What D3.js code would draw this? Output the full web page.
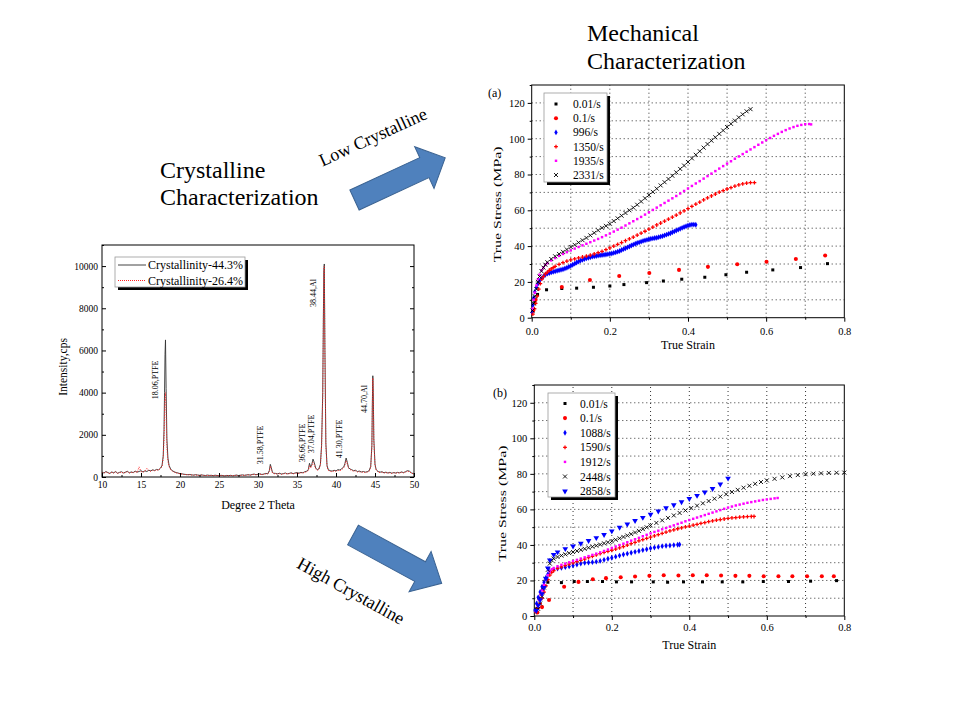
<!DOCTYPE html>
<html>
<head>
<meta charset="utf-8">
<script src="https://cdn.jsdelivr.net/npm/d3@7"></script>
<style>
  body { margin: 0; background: #fff; }
  svg { font-family: "Liberation Serif", "Times New Roman", serif; }
</style>
</head>
<body>
<svg id="fig" width="960" height="720"></svg>
<script>
// ---------- XRD data (intensity, cps vs 2 theta) ----------
const twoTheta = [
  10,10.25,10.5,10.75,11,11.25,11.5,11.75,12,12.25,12.5,12.75,13,13.25,13.5,13.75,14,14.25,14.5,14.75,15,15.25,15.5,15.75,16,16.25,16.5,16.75,17,17.25,17.5,
  17.7,17.85,17.95,18.02,18.08,18.14,18.22,18.32,18.45,18.6,18.8,19,
  19.25,19.5,19.75,20,20.25,20.5,20.75,21,21.25,21.5,21.75,22,22.25,22.5,22.75,23,23.25,23.5,23.75,24,24.25,24.5,24.75,25,25.25,25.5,25.75,26,26.25,26.5,26.75,27,27.25,27.5,27.75,28,28.25,28.5,28.75,29,29.25,29.5,29.75,30,30.25,30.5,30.75,31,31.25,
  31.45,31.58,31.7,31.85,32,
  32.25,32.5,32.75,33,33.25,33.5,33.75,34,34.25,34.5,34.75,35,35.25,35.5,35.75,36,36.25,
  36.45,36.6,36.75,36.9,37.05,37.2,37.4,37.6,37.8,38,38.15,38.3,38.38,38.44,38.5,38.58,38.7,38.85,39,
  39.25,39.5,39.75,40,40.25,40.5,40.75,41,
  41.15,41.3,41.45,41.6,41.8,
  42,42.25,42.5,42.75,43,43.25,43.5,43.75,44,44.25,
  44.45,44.6,44.66,44.72,44.78,44.85,45,45.15,
  45.4,45.65,45.9,46.15,46.4,46.65,46.9,47.15,47.4,47.65,47.9,48.15,48.4,48.65,48.9,49.15,49.4,49.65,49.9,50
];
const cryst443 = [
  230,190,260,210,170,240,200,260,180,220,250,190,230,270,200,240,210,280,230,260,300,240,290,260,320,290,340,310,360,340,420,
  550,1000,2200,4000,5800,6500,4200,1800,900,550,380,300,
  250,210,190,160,150,130,120,110,120,100,90,110,95,80,100,85,70,90,75,80,65,85,70,60,80,70,55,75,65,80,60,75,90,70,85,100,80,95,110,90,120,140,110,130,150,120,140,170,150,
  300,600,450,220,180,
  170,150,180,140,160,190,150,170,200,160,190,210,180,220,200,250,280,
  350,650,480,600,850,700,420,350,380,600,1500,4000,7500,9800,10100,6000,1600,550,350,
  300,280,320,290,350,330,400,480,
  650,900,700,450,380,
  350,300,320,260,280,240,260,230,250,300,
  500,1500,3500,4800,4000,1800,600,350,
  260,230,250,200,230,190,220,180,210,190,220,200,240,210,250,300,280,200,160,150
];
const cryst264 = [
  210,180,240,200,160,220,190,240,170,210,230,180,210,250,190,220,200,260,210,480,260,230,270,420,300,270,320,290,340,320,400,
  500,900,1800,3000,3800,4000,3000,1400,750,480,340,280,
  230,200,170,150,140,120,115,100,105,95,85,100,80,75,90,70,65,80,70,75,60,70,65,55,70,60,50,65,60,70,55,70,80,65,75,90,75,85,100,85,110,120,100,120,135,110,130,150,140,
  260,520,380,200,160,
  150,140,160,130,150,170,140,160,180,150,170,190,170,200,190,220,250,
  300,550,420,520,700,600,380,320,350,550,1400,3800,7300,9700,10000,5800,1500,500,320,
  270,250,290,270,310,300,360,430,
  580,780,620,420,350,
  320,270,290,240,250,220,240,210,230,270,
  460,1400,3300,4700,3900,1700,560,320,
  240,210,230,190,210,180,200,170,200,180,200,190,220,200,230,270,250,190,150,140
];
const xrdSeries = ["Crystallinity-44.3%", "Crystallinity-26.4%"];
// peak labels: text, 2theta, intensity (label centre)
const peakLabels = [
  ["18.06,PTFE", 16.92, 4600],
  ["31.58,PTFE", 30.38, 1520],
  ["36.66,PTFE", 35.73, 1610],
  ["37.04,PTFE", 36.88, 2040],
  ["38.44,Al", 37.09, 8720],
  ["41.30,PTFE", 40.42, 1800],
  ["44.70,Al", 43.59, 3700]
];
const thetaTicks = [10, 15, 20, 25, 30, 35, 40, 45, 50];
const intensityTicks = [0, 2000, 4000, 6000, 8000, 10000];

// ---------- Mechanical data (true strain, true stress MPa) ----------
const ratesA = ["0.01/s", "0.1/s", "996/s", "1350/s", "1935/s", "2331/s"];
const a_001 = [[0.003,4],[0.008,9],[0.015,13],[0.038,15.6],[0.077,16.3],[0.115,16.5],[0.158,17],[0.2,17.7],[0.236,18.5],[0.294,19.6],[0.337,20.5],[0.384,21.5],[0.443,22.6],[0.497,24],[0.55,25.4],[0.617,26.7],[0.688,28],[0.757,30.2]];
const a_01 = [[0.004,4],[0.01,10],[0.077,17.2],[0.149,21.1],[0.224,23.3],[0.301,25],[0.377,26.7],[0.451,28.4],[0.526,29.9],[0.601,31.3],[0.676,32.8],[0.751,34.7]];
const a_996 = [[0.001,3],[0.003,7],[0.005,11],[0.008,14.5],[0.012,17],[0.016,19],[0.02,20.5],[0.025,22],[0.03,23],[0.035,24],[0.04,24.6],[0.045,25],[0.05,25.3],[0.055,25.6],[0.06,25.9],[0.065,26.2],[0.07,26.5],[0.075,26.8],[0.08,27.1],[0.085,27.5],[0.09,27.9],[0.095,28.4],[0.1,29],[0.105,29.6],[0.11,30.2],[0.115,30.8],[0.12,31.4],[0.125,31.9],[0.13,32.4],[0.135,32.8],[0.14,33.2],[0.145,33.5],[0.15,33.8],[0.155,34.1],[0.16,34.3],[0.165,34.5],[0.17,34.7],[0.175,34.9],[0.18,35],[0.185,35.2],[0.19,35.3],[0.195,35.5],[0.2,35.7],[0.205,35.9],[0.21,36.2],[0.215,36.5],[0.22,36.9],[0.225,37.3],[0.23,37.8],[0.235,38.3],[0.24,38.8],[0.245,39.3],[0.25,39.8],[0.255,40.3],[0.26,40.8],[0.265,41.3],[0.27,41.7],[0.275,42.1],[0.28,42.5],[0.285,42.9],[0.29,43.2],[0.295,43.5],[0.3,43.8],[0.305,44.1],[0.31,44.3],[0.315,44.5],[0.32,44.7],[0.325,45],[0.33,45.3],[0.335,45.6],[0.34,46],[0.345,46.4],[0.35,46.8],[0.355,47.2],[0.36,47.7],[0.365,48.2],[0.37,48.7],[0.375,49.2],[0.38,49.7],[0.385,50.2],[0.39,50.7],[0.395,51.1],[0.4,51.5],[0.405,51.8],[0.41,52],[0.415,52],[0.42,51.9]];
const a_1350 = [[0.003,2],[0.007,5],[0.01,8],[0.014,12],[0.018,16],[0.022,19],[0.026,21.5],[0.03,23],[0.035,24.5],[0.04,25.5],[0.045,26.5],[0.05,27.3],[0.055,28],[0.06,28.7],[0.07,29.8],[0.08,30.8],[0.09,31.6],[0.1,32.3],[0.11,32.9],[0.12,33.4],[0.13,33.9],[0.14,34.4],[0.15,35],[0.16,35.6],[0.17,36.3],[0.18,37.1],[0.19,38],[0.2,39],[0.21,40],[0.22,41],[0.23,42],[0.24,43],[0.25,44],[0.26,45],[0.27,46.1],[0.28,47.2],[0.29,48.3],[0.3,49.5],[0.31,50.6],[0.32,51.8],[0.33,52.9],[0.34,54],[0.35,55.1],[0.36,56.2],[0.37,57.3],[0.38,58.5],[0.39,59.7],[0.4,61],[0.41,62.2],[0.42,63.4],[0.43,64.6],[0.44,65.8],[0.45,66.9],[0.46,68],[0.47,69.1],[0.48,70.1],[0.49,71],[0.5,71.9],[0.51,72.7],[0.52,73.5],[0.53,74.2],[0.54,74.8],[0.55,75.2],[0.56,75.5],[0.57,75.5]];
const a_1935 = [[0.002,5],[0.005,10],[0.008,14],[0.012,18],[0.016,21.5],[0.02,24],[0.025,26.5],[0.03,28],[0.035,29.5],[0.04,30.5],[0.05,32],[0.06,33.3],[0.07,34.5],[0.08,35.6],[0.09,36.6],[0.1,37.6],[0.11,38.6],[0.12,39.5],[0.13,40.4],[0.14,41.3],[0.15,42.2],[0.16,43.1],[0.17,44],[0.18,45],[0.19,46],[0.2,47],[0.21,48.1],[0.22,49.2],[0.23,50.3],[0.24,51.5],[0.25,52.7],[0.26,53.9],[0.27,55.1],[0.28,56.3],[0.29,57.6],[0.3,58.9],[0.31,60.2],[0.32,61.5],[0.33,62.8],[0.34,64.1],[0.35,65.4],[0.36,66.7],[0.37,68],[0.38,69.4],[0.39,70.8],[0.4,72.2],[0.41,73.6],[0.42,75],[0.43,76.3],[0.44,77.7],[0.45,79.1],[0.46,80.5],[0.47,81.9],[0.48,83.3],[0.49,84.7],[0.5,86.1],[0.51,87.4],[0.52,88.8],[0.53,90.1],[0.54,91.4],[0.55,92.7],[0.56,94],[0.57,95.3],[0.58,96.6],[0.59,97.9],[0.6,99.2],[0.61,100.4],[0.62,101.6],[0.63,102.7],[0.64,103.8],[0.65,104.8],[0.66,105.7],[0.67,106.5],[0.68,107.2],[0.69,107.7],[0.7,108.1],[0.71,108.2],[0.715,108]];
const a_2331 = [[0.002,4],[0.005,8],[0.008,12],[0.012,16],[0.016,20],[0.02,23],[0.025,26],[0.03,28],[0.035,29.6],[0.04,31],[0.05,32.8],[0.06,34.3],[0.07,35.6],[0.08,36.8],[0.09,38.1],[0.1,39.5],[0.11,40.7],[0.12,42],[0.13,43.3],[0.14,44.6],[0.15,46],[0.16,47.4],[0.17,48.8],[0.18,50.2],[0.19,51.3],[0.2,52.5],[0.21,54],[0.22,55.5],[0.23,57],[0.24,58.5],[0.25,60],[0.26,61.5],[0.27,63.1],[0.28,64.9],[0.29,66.7],[0.3,68.5],[0.31,70.3],[0.32,72.1],[0.33,73.9],[0.34,75.7],[0.35,77.5],[0.36,79.3],[0.37,81.2],[0.38,83.1],[0.39,85],[0.4,87],[0.41,89],[0.42,91],[0.43,93],[0.44,95],[0.45,97],[0.46,98.9],[0.47,100.8],[0.48,102.7],[0.49,104.6],[0.5,106.5],[0.51,108.3],[0.52,110.1],[0.53,111.9],[0.54,113.6],[0.55,115.3],[0.56,116.5]];

const ratesB = ["0.01/s", "0.1/s", "1088/s", "1590/s", "1912/s", "2448/s", "2858/s"];
const b_001 = [[0.004,4],[0.012,10],[0.022,15],[0.035,19],[0.07,18.8],[0.103,19.4],[0.137,19.4],[0.176,19.4],[0.212,19.2],[0.251,19.2],[0.307,19.2],[0.344,19],[0.385,19.2],[0.434,19.2],[0.485,19.2],[0.538,19.2],[0.591,19.4],[0.656,19.4],[0.713,19.6],[0.78,19.9]];
const b_01 = [[0.008,2],[0.02,5],[0.038,9],[0.077,16.5],[0.114,19.2],[0.151,20.7],[0.185,21.3],[0.223,21.8],[0.26,22.2],[0.297,22.6],[0.334,22.9],[0.372,22.8],[0.409,22.9],[0.445,22.9],[0.482,22.8],[0.519,22.6],[0.555,22.6],[0.592,22.4],[0.63,22.4],[0.666,22.4],[0.704,22.4],[0.742,22.4],[0.773,22.4]];
const b_1088 = [[0.002,3],[0.006,7],[0.01,10.5],[0.015,13.5],[0.02,16.5],[0.025,19],[0.03,21.5],[0.035,23.5],[0.04,25],[0.05,26.1],[0.06,26.7],[0.07,27.1],[0.08,27.5],[0.09,27.9],[0.1,28.4],[0.11,29],[0.12,29.5],[0.13,29.9],[0.14,30.1],[0.15,30.3],[0.16,30.6],[0.17,31],[0.18,31.6],[0.19,32.2],[0.2,32.8],[0.21,33.4],[0.22,34],[0.23,34.6],[0.24,35.1],[0.25,35.6],[0.26,36.1],[0.27,36.6],[0.28,37.1],[0.29,37.6],[0.3,38.1],[0.31,38.5],[0.32,38.9],[0.33,39.3],[0.34,39.5],[0.35,39.7],[0.36,39.9],[0.37,40.1],[0.375,40.2]];
const b_1590 = [[0.005,2],[0.01,4.5],[0.015,7],[0.02,10],[0.025,13.5],[0.03,17],[0.035,20.5],[0.04,23],[0.045,24.5],[0.05,25.5],[0.06,26.8],[0.07,27.7],[0.08,28.5],[0.09,29.2],[0.1,29.9],[0.11,30.6],[0.12,31.3],[0.13,32],[0.14,32.8],[0.15,33.6],[0.16,34.4],[0.17,35.1],[0.18,35.8],[0.19,36.4],[0.2,37],[0.21,37.7],[0.22,38.4],[0.23,39.1],[0.24,39.9],[0.25,40.7],[0.26,41.5],[0.27,42.3],[0.28,43],[0.29,43.7],[0.3,44.4],[0.31,45.1],[0.32,45.8],[0.33,46.5],[0.34,47.2],[0.35,47.9],[0.36,48.5],[0.37,49.1],[0.38,49.6],[0.39,50.1],[0.4,50.6],[0.41,51.1],[0.42,51.6],[0.43,52.1],[0.44,52.6],[0.45,53.1],[0.46,53.5],[0.47,53.9],[0.48,54.3],[0.49,54.6],[0.5,54.9],[0.51,55.2],[0.52,55.4],[0.53,55.6],[0.54,55.8],[0.55,55.9],[0.56,56],[0.567,56]];
const b_1912 = [[0.004,3],[0.008,6],[0.012,9],[0.016,12],[0.02,14.5],[0.025,17.5],[0.03,20.5],[0.035,23],[0.04,25],[0.045,26.3],[0.05,27],[0.06,28],[0.07,28.8],[0.08,29.5],[0.09,30.2],[0.1,30.9],[0.11,31.6],[0.12,32.3],[0.13,33],[0.14,33.7],[0.15,34.4],[0.16,35.1],[0.17,35.8],[0.18,36.6],[0.19,37.4],[0.2,38.3],[0.21,39.1],[0.22,39.9],[0.23,40.7],[0.24,41.5],[0.25,42.4],[0.26,43.2],[0.27,44],[0.28,44.9],[0.29,45.7],[0.3,46.5],[0.31,47.3],[0.32,48],[0.33,48.8],[0.34,49.5],[0.35,50.3],[0.36,51],[0.37,51.8],[0.38,52.5],[0.39,53.3],[0.4,54],[0.41,54.7],[0.42,55.4],[0.43,56.1],[0.44,56.8],[0.45,57.5],[0.46,58.2],[0.47,58.9],[0.48,59.6],[0.49,60.3],[0.5,61],[0.51,61.6],[0.52,62.2],[0.53,62.7],[0.54,63.2],[0.55,63.7],[0.56,64.1],[0.57,64.5],[0.58,64.9],[0.59,65.3],[0.6,65.6],[0.61,65.9],[0.62,66.2],[0.628,66.4]];
const b_2448 = [[0.01,4],[0.015,7],[0.02,11],[0.025,16],[0.03,21],[0.035,26],[0.04,29.5],[0.045,31.3],[0.05,32.3],[0.06,33.2],[0.07,34],[0.08,34.7],[0.09,35.4],[0.1,36],[0.11,36.6],[0.12,37.2],[0.13,37.8],[0.14,38.4],[0.15,39],[0.16,39.6],[0.17,40.2],[0.18,40.9],[0.19,41.5],[0.2,42.1],[0.21,42.9],[0.22,43.7],[0.23,44.5],[0.24,45.3],[0.25,46.1],[0.26,47],[0.27,47.9],[0.28,48.9],[0.29,49.9],[0.3,51],[0.315,52.4],[0.33,53.8],[0.345,55.2],[0.36,56.6],[0.375,58],[0.39,59.4],[0.405,60.8],[0.42,62.1],[0.435,63.4],[0.45,64.7],[0.465,66],[0.48,67.2],[0.495,68.5],[0.51,69.8],[0.525,71],[0.54,72.2],[0.555,73.3],[0.57,74.4],[0.585,75.4],[0.6,76.3],[0.62,77.2],[0.64,78],[0.66,78.7],[0.68,79.3],[0.7,79.8],[0.72,80.1],[0.74,80.3],[0.76,80.5],[0.78,80.6],[0.8,80.7]];
const b_2858 = [[0.005,3],[0.01,6],[0.015,9],[0.02,12.5],[0.025,16],[0.03,21],[0.035,27],[0.04,31.5],[0.05,34.5],[0.06,36],[0.08,37.8],[0.1,39.3],[0.12,40.8],[0.14,42.4],[0.16,44],[0.18,45.8],[0.2,47.8],[0.22,49.8],[0.24,51.7],[0.26,53.6],[0.28,55.4],[0.3,57.2],[0.32,59],[0.34,60.8],[0.36,62.5],[0.38,64.2],[0.4,66],[0.42,67.8],[0.44,69.7],[0.46,71.7],[0.48,74.2],[0.5,77.5]];

const strainTicks = [0, 0.2, 0.4, 0.6, 0.8];
const strainMinor = [0.1, 0.3, 0.5, 0.7];
const stressTicks = [0, 20, 40, 60, 80, 100, 120];
const stressMinor = [10, 30, 50, 70, 90, 110, 130];

const svg = d3.select("#fig");

// ---------- titles and arrows ----------
function title(lines, x, y0, dy) {
  lines.forEach((t, i) => {
    svg.append("text").attr("x", x).attr("y", y0 + i * dy)
      .attr("font-size", 24).text(t);
  });
}
title(["Mechanical", "Characterization"], 587, 41, 28);
title(["Crystalline", "Characterization"], 160, 178, 27);

function arrow(cx, cy, angle, len, w, hw, hl) {
  const b = len - hl;
  const pts = [[0,-w/2],[b,-w/2],[b,-hw/2],[len,0],[b,hw/2],[b,w/2],[0,w/2]];
  svg.append("path")
    .attr("d", d3.line()(pts) + "Z")
    .attr("transform", `translate(${cx},${cy}) rotate(${angle})`)
    .attr("fill", "#4f81bd").attr("stroke", "#3a6291").attr("stroke-width", 1);
}
arrow(354.5, 200, -24.9, 100, 22, 46, 23);
arrow(353, 535, 28.6, 101, 22.4, 46, 24.6);

svg.append("text").attr("transform", "translate(373,137) rotate(-24.6)")
  .attr("text-anchor", "middle").attr("dominant-baseline", "central")
  .attr("font-size", 18).text("Low Crystalline");
svg.append("text").attr("transform", "translate(351,591) rotate(29)")
  .attr("text-anchor", "middle").attr("dominant-baseline", "central")
  .attr("font-size", 18).text("High Crystalline");

// ---------- XRD plot ----------
(function () {
  const x = d3.scaleLinear().domain([10, 50]).range([102, 414]);
  const y = d3.scaleLinear().domain([0, 11000]).range([477, 245]);
  const g = svg.append("g");

  const line = d3.line().x(d => x(d[0])).y(d => y(d[1]));
  g.append("path").datum(d3.zip(twoTheta, cryst443)).attr("d", line)
    .attr("fill", "none").attr("stroke", "#333").attr("stroke-width", 0.9);
  g.append("path").datum(d3.zip(twoTheta, cryst264)).attr("d", line)
    .attr("fill", "none").attr("stroke", "#f22").attr("stroke-width", 1)
    .attr("stroke-dasharray", "1,1.5");

  g.append("rect").attr("x", x(10)).attr("y", y(11000))
    .attr("width", x(50) - x(10)).attr("height", y(0) - y(11000))
    .attr("fill", "none").attr("stroke", "#000").attr("stroke-width", 1);

  const fmt = d3.format("d");
  g.append("g").attr("transform", `translate(0,${y(0)})`)
    .call(d3.axisBottom(x).tickValues(thetaTicks).tickSize(-4).tickPadding(4).tickFormat(fmt));
  g.append("g").attr("transform", `translate(0,${y(0)})`)
    .call(d3.axisBottom(x).tickValues([12.5,17.5,22.5,27.5,32.5,37.5,42.5,47.5]).tickSize(-2).tickFormat(""));
  g.append("g").attr("transform", `translate(${x(10)},0)`)
    .call(d3.axisLeft(y).tickValues(intensityTicks).tickSize(-4).tickPadding(4).tickFormat(fmt));
  g.append("g").attr("transform", `translate(${x(10)},0)`)
    .call(d3.axisLeft(y).tickValues([1000,3000,5000,7000,9000,11000]).tickSize(-2).tickFormat(""));
  g.append("g").attr("transform", `translate(${x(50)},0)`)
    .call(d3.axisRight(y).tickValues(intensityTicks).tickSize(-4).tickFormat(""));
  g.append("g").attr("transform", `translate(${x(50)},0)`)
    .call(d3.axisRight(y).tickValues([1000,3000,5000,7000,9000]).tickSize(-2).tickFormat(""));
  g.selectAll(".domain").remove();
  g.selectAll(".tick text").attr("font-size", 9.5).attr("font-family", "Liberation Serif").attr("fill", "#000");

  g.append("text").attr("x", (x(10) + x(50)) / 2).attr("y", 509)
    .attr("text-anchor", "middle").attr("font-size", 12).text("Degree 2 Theta");
  g.append("text").attr("transform", "translate(63,367) rotate(-90)")
    .attr("text-anchor", "middle").attr("dominant-baseline", "central")
    .attr("font-size", 11.5).text("Intensity,cps");

  g.selectAll(".peak").data(peakLabels).join("text").attr("class", "peak")
    .attr("transform", d => `translate(${x(d[1])},${y(d[2])}) rotate(-90)`)
    .attr("text-anchor", "middle").attr("dominant-baseline", "central")
    .attr("font-size", 8).text(d => d[0]);

  // legend
  const lg = g.append("g");
  lg.append("rect").attr("x", 118).attr("y", 260).attr("width", 130).attr("height", 30).attr("fill", "#000");
  lg.append("rect").attr("x", 115).attr("y", 257).attr("width", 130).attr("height", 30)
    .attr("fill", "#fff").attr("stroke", "#999").attr("stroke-width", 0.8);
  xrdSeries.forEach((s, i) => {
    const yy = 265 + i * 15.5;
    lg.append("line").attr("x1", 118).attr("x2", 146).attr("y1", yy).attr("y2", yy)
      .attr("stroke", i ? "#f22" : "#444").attr("stroke-width", 1)
      .attr("stroke-dasharray", i ? "1,1" : null);
    lg.append("text").attr("x", 148).attr("y", yy).attr("dominant-baseline", "central")
      .attr("font-size", 12).text(s);
  });
})();

// ---------- mechanical panels ----------
const markers = {
  square: { d: d3.symbol(d3.symbolSquare, 9)(), fill: true },
  circle: { d: d3.symbol(d3.symbolCircle, 13)(), fill: true },
  diamond: { d: d3.symbol(d3.symbolDiamond, 10)(), fill: true },
  plus: { d: d3.symbol(d3.symbolCross, 8)(), fill: true },
  dot: { d: d3.symbol(d3.symbolSquare, 6)(), fill: true },
  xmark: { d: "M-2,-2L2,2M-2,2L2,-2", fill: false },
  tri: { d: d3.symbol(d3.symbolTriangle, 14)(), fill: true, rot: 180 }
};

function mechPanel(o) {
  const x = d3.scaleLinear().domain([0, 0.8]).range([o.left, o.right]);
  const y = d3.scaleLinear().domain([0, 130]).range([o.bottom, o.top]);
  const g = svg.append("g");

  const grid = g.append("g").attr("stroke", "#333").attr("stroke-width", 1).attr("stroke-dasharray", "1,3");
  grid.selectAll(".vx").data([0.1,0.2,0.3,0.4,0.5,0.6,0.7]).join("line")
    .attr("x1", d => x(d)).attr("x2", d => x(d)).attr("y1", y(0)).attr("y2", y(130));
  grid.selectAll(".hy").data([10,20,30,40,50,60,70,80,90,100,110,120]).join("line")
    .attr("y1", d => y(d)).attr("y2", d => y(d)).attr("x1", x(0)).attr("x2", x(0.8));

  g.append("rect").attr("x", x(0)).attr("y", y(130))
    .attr("width", x(0.8) - x(0)).attr("height", y(0) - y(130))
    .attr("fill", "none").attr("stroke", "#000").attr("stroke-width", 1);

  g.append("g").attr("transform", `translate(0,${y(0)})`)
    .call(d3.axisBottom(x).tickValues(strainTicks).tickSize(4).tickPadding(o.xPad).tickFormat(d3.format(".1f")));
  g.append("g").attr("transform", `translate(0,${y(0)})`)
    .call(d3.axisBottom(x).tickValues(strainMinor).tickSize(2).tickFormat(""));
  g.append("g").attr("transform", `translate(${x(0)},0)`)
    .call(d3.axisLeft(y).tickValues(stressTicks).tickSize(4).tickPadding(3).tickFormat(d3.format("d")));
  g.append("g").attr("transform", `translate(${x(0)},0)`)
    .call(d3.axisLeft(y).tickValues(stressMinor).tickSize(2).tickFormat(""));
  g.selectAll(".domain").remove();
  g.selectAll(".tick text").attr("font-size", 10.5).attr("font-family", "Liberation Serif").attr("fill", "#000");

  o.series.forEach(s => {
    const m = markers[s.marker];
    g.append("g").selectAll("path").data(s.data).join("path")
      .attr("transform", d => `translate(${x(d[0])},${y(d[1])})` + (m.rot ? ` rotate(${m.rot})` : ""))
      .attr("d", m.d)
      .attr("fill", m.fill ? s.color : "none")
      .attr("stroke", m.fill ? "none" : s.color).attr("stroke-width", 0.9);
  });

  g.append("text").attr("x", o.labX).attr("y", o.labY).attr("dominant-baseline", "central")
    .attr("font-size", 12).text(o.label);
  g.append("text").attr("x", (x(0) + x(0.8)) / 2).attr("y", o.strainY)
    .attr("text-anchor", "middle").attr("dominant-baseline", "central")
    .attr("font-size", 12).text("True Strain");
  g.append("text").attr("transform", `translate(${o.stressX},${(y(0) + y(130)) / 2 + 3}) rotate(-90)`)
    .attr("text-anchor", "middle").attr("dominant-baseline", "central")
    .attr("font-size", 11).attr("textLength", 116).attr("lengthAdjust", "spacingAndGlyphs")
    .text("True Stress (MPa)");

  // legend
  const L = o.legend;
  const lg = g.append("g");
  lg.append("rect").attr("x", L.x + 3).attr("y", L.y + 3).attr("width", L.w).attr("height", L.h).attr("fill", "#000");
  lg.append("rect").attr("x", L.x).attr("y", L.y).attr("width", L.w).attr("height", L.h)
    .attr("fill", "#fff").attr("stroke", "#999").attr("stroke-width", 0.8);
  o.series.forEach((s, i) => {
    const yy = L.row0 + i * L.dy;
    const m = markers[s.marker];
    lg.append("path").attr("transform", `translate(${L.mx},${yy})` + (m.rot ? ` rotate(${m.rot})` : ""))
      .attr("d", m.d).attr("fill", m.fill ? s.color : "none")
      .attr("stroke", m.fill ? "none" : s.color).attr("stroke-width", 0.9);
    lg.append("text").attr("x", L.tx).attr("y", yy).attr("dominant-baseline", "central")
      .attr("font-size", 11.5).text(s.name);
  });
}

const colsA = ["#000", "#f00", "#00f", "#f00", "#f0f", "#000"];
const markA = ["square", "circle", "diamond", "plus", "dot", "xmark"];
const dataA = [a_001, a_01, a_996, a_1350, a_1935, a_2331];
mechPanel({
  left: 531.7, right: 844.3, top: 85, bottom: 317.7, xPad: 6,
  label: "(a)", labX: 488, labY: 93, strainY: 345, stressX: 497,
  legend: { x: 544, y: 93, w: 63, h: 89, row0: 104, dy: 14.2, mx: 556, tx: 573 },
  series: ratesA.map((n, i) => ({ name: n, data: dataA[i], color: colsA[i], marker: markA[i] }))
});

const colsB = ["#000", "#f00", "#00f", "#f00", "#f0f", "#000", "#00f"];
const markB = ["square", "circle", "diamond", "plus", "dot", "xmark", "tri"];
const dataB = [b_001, b_01, b_1088, b_1590, b_1912, b_2448, b_2858];
mechPanel({
  left: 534.3, right: 844.3, top: 385, bottom: 616, xPad: 4,
  label: "(b)", labX: 493, labY: 393, strainY: 645, stressX: 501.5,
  legend: { x: 548, y: 393, w: 67, h: 104, row0: 403.5, dy: 14.6, mx: 565, tx: 580 },
  series: ratesB.map((n, i) => ({ name: n, data: dataB[i], color: colsB[i], marker: markB[i] }))
});
</script>
</body>
</html>
